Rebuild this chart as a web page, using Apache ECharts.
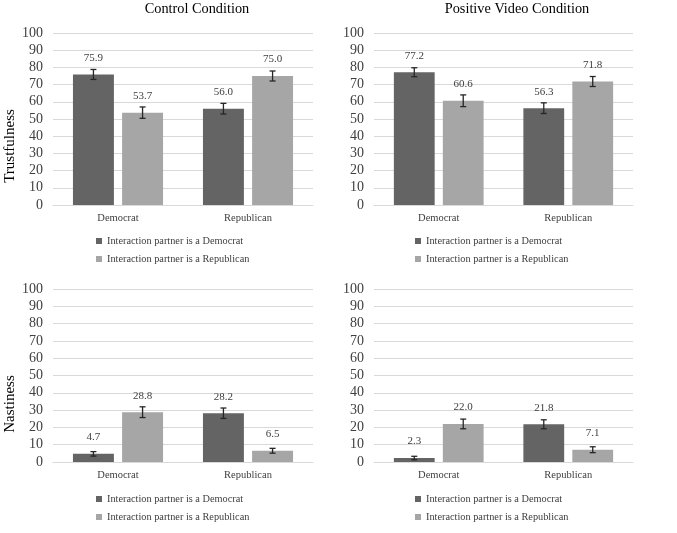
<!DOCTYPE html>
<html lang="en">
<head>
    <meta charset="UTF-8">
    <title>Trustfulness and Nastiness by Condition</title>
    <script src="https://cdn.jsdelivr.net/npm/echarts@6/dist/echarts.min.js"></script>
    <style>
        html, body { margin: 0; padding: 0; background: #fff; }
        #chart { width: 677px; height: 533px; }
    </style>
</head>
<body>
<div id="chart"></div>
<script>
    'use strict';
    // categories on the x axis
    const categories = ['Democrat', 'Republican'];
    const seriesNames = ['Interaction partner is a Democrat', 'Interaction partner is a Republican'];
    const yTicks = [0, 10, 20, 30, 40, 50, 60, 70, 80, 90, 100];

    // means (Democrat, Republican participants)
    const trustControlDem = [75.9, 56.0];
    const trustControlRep = [53.7, 75.0];
    const trustVideoDem = [77.2, 56.3];
    const trustVideoRep = [60.6, 71.8];
    const nastyControlDem = [4.7, 28.2];
    const nastyControlRep = [28.8, 6.5];
    const nastyVideoDem = [2.3, 21.8];
    const nastyVideoRep = [22.0, 7.1];

    // error bar half-widths
    const trustControlDemErr = [2.9, 3.1];
    const trustControlRepErr = [3.3, 2.9];
    const trustVideoDemErr = [2.6, 3.1];
    const trustVideoRepErr = [3.4, 2.9];
    const nastyControlDemErr = [1.3, 3.0];
    const nastyControlRepErr = [3.1, 1.4];
    const nastyVideoDemErr = [1.0, 2.6];
    const nastyVideoRepErr = [2.8, 1.7];

    const FONT = '"Liberation Serif", "DejaVu Serif", serif';
    const DARK = '#646464';
    const LIGHT = '#a6a6a6';
    const TXT = '#404040';

    const panels = [
        {grid: {left: 53, right: 364, top: 33, height: 172}, legend: {left: 96, top: 236},
            dem: trustControlDem, rep: trustControlRep, demErr: trustControlDemErr, repErr: trustControlRepErr},
        {grid: {left: 374, right: 44, top: 33, height: 172}, legend: {left: 415, top: 236},
            dem: trustVideoDem, rep: trustVideoRep, demErr: trustVideoDemErr, repErr: trustVideoRepErr},
        {grid: {left: 53, right: 364, top: 289, height: 173}, legend: {left: 96, top: 494},
            dem: nastyControlDem, rep: nastyControlRep, demErr: nastyControlDemErr, repErr: nastyControlRepErr},
        {grid: {left: 374, right: 44, top: 289, height: 173}, legend: {left: 415, top: 494},
            dem: nastyVideoDem, rep: nastyVideoRep, demErr: nastyVideoDemErr, repErr: nastyVideoRepErr}
    ];

    const BAR_W = 0.315, GAP = 0.2;

    function errorRender(params, api) {
        let cat = api.value(0), val = api.value(1), err = api.value(2), which = api.value(3);
        let band = api.size([1, 0])[0];
        let off = (BAR_W * (1 + GAP) / 2) * band * (which === 0 ? -1 : 1);
        let c = api.coord([cat, val]);
        let x = c[0] + off;
        let hi = api.coord([cat, val + err])[1];
        let lo = api.coord([cat, val - err])[1];
        let cap = 3;
        let st = {stroke: '#262626', lineWidth: 1.3};
        return {
            type: 'group',
            children: [
                {type: 'line', shape: {x1: x, y1: hi, x2: x, y2: lo}, style: st},
                {type: 'line', shape: {x1: x - cap, y1: hi, x2: x + cap, y2: hi}, style: st},
                {type: 'line', shape: {x1: x - cap, y1: lo, x2: x + cap, y2: lo}, style: st}
            ]
        };
    }

    let grids = [], xAxes = [], yAxes = [], series = [], legends = [];
    panels.forEach(function (p, i) {
        grids.push(p.grid);
        xAxes.push({
            type: 'category', gridIndex: i, data: categories,
            axisLine: {lineStyle: {color: '#d9d9d9', width: 1}},
            axisTick: {show: false},
            axisLabel: {fontFamily: FONT, fontSize: 10.5, color: TXT, margin: 8}
        });
        yAxes.push({
            type: 'value', gridIndex: i, min: yTicks[0], max: yTicks[yTicks.length - 1], interval: 10,
            axisLine: {show: false}, axisTick: {show: false},
            axisLabel: {fontFamily: FONT, fontSize: 14, color: TXT, margin: 10},
            splitLine: {lineStyle: {color: '#d9d9d9', width: 1}}
        });
        let label = {
            show: true, position: 'top', distance: 11,
            fontFamily: FONT, fontSize: 11, color: TXT,
            formatter: function (d) { return d.value.toFixed(1); }
        };
        series.push({
            name: seriesNames[0], type: 'bar', xAxisIndex: i, yAxisIndex: i,
            data: p.dem, barWidth: (BAR_W * 100) + '%', barGap: (GAP * 100) + '%',
            itemStyle: {color: DARK}, label: label
        });
        series.push({
            name: seriesNames[1], type: 'bar', xAxisIndex: i, yAxisIndex: i,
            data: p.rep, barWidth: (BAR_W * 100) + '%', barGap: (GAP * 100) + '%',
            itemStyle: {color: LIGHT}, label: label
        });
        let errData = [];
        for (let k = 0; k < categories.length; k++) {
            errData.push([k, p.dem[k], p.demErr[k], 0]);
            errData.push([k, p.rep[k], p.repErr[k], 1]);
        }
        series.push({
            type: 'custom', xAxisIndex: i, yAxisIndex: i, z: 10,
            renderItem: errorRender, data: errData, silent: true
        });
        legends.push({
            orient: 'vertical', left: p.legend.left, top: p.legend.top, padding: 0,
            itemWidth: 6, itemHeight: 6, itemGap: 8, icon: 'rect',
            data: seriesNames,
            textStyle: {fontFamily: FONT, fontSize: 10.3, color: TXT}
        });
    });

    const titleStyle = {fontFamily: FONT, fontSize: 14.3, fontWeight: 'normal', color: '#000'};
    const axisTitleStyle = {text: '', font: '15px ' + FONT, fill: '#000', textAlign: 'center', textVerticalAlign: 'middle'};

    let chart = echarts.init(document.getElementById('chart'));
    chart.setOption({
        animation: false,
        backgroundColor: '#fff',
        title: [
            {text: 'Control Condition', left: 197, top: 2, padding: 0, textAlign: 'center', textStyle: titleStyle},
            {text: 'Positive Video Condition', left: 517, top: 2, padding: 0, textAlign: 'center', textStyle: titleStyle}
        ],
        graphic: [
            {type: 'text', x: 10, y: 146, rotation: Math.PI / 2,
                style: Object.assign({}, axisTitleStyle, {text: 'Trustfulness'})},
            {type: 'text', x: 10, y: 404, rotation: Math.PI / 2,
                style: Object.assign({}, axisTitleStyle, {text: 'Nastiness'})}
        ],
        legend: legends,
        grid: grids,
        xAxis: xAxes,
        yAxis: yAxes,
        series: series
    });
</script>
</body>
</html>
